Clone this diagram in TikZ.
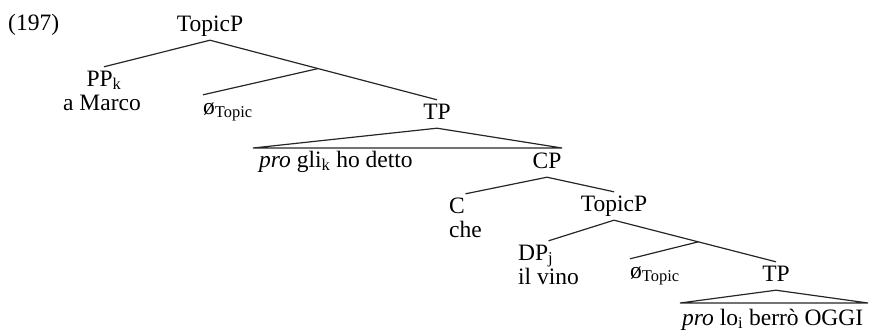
\documentclass[tikz,border=0pt]{standalone}
\usepackage{fontspec}
\setmainfont{Liberation Serif}
\usetikzlibrary{calc}

\begin{document}
\begin{tikzpicture}[x=1pt, y=-1pt,
    lab/.style={font=\fontsize{23.5}{28}\selectfont, inner xsep=0pt, inner ysep=4pt,
                text height=15pt, text depth=5pt, anchor=base},
    word/.style={lab, anchor=base west},
    branch/.style={line width=1.2pt, black!85}
]
    \useasboundingbox (0,0) rectangle (870,333);

    % Example number
    \node[word] (ex) at (8,30) {(197)};

    % Upper TopicP and its daughters
    \node[lab] (top1) at (210,31) {TopicP};
    \node[lab] (pp) at (104,86) {PP\textsubscript{k}};
    \node[lab] (ppw) at (102,110) {a Marco};
    \node[word] (nul1) at (203,114) {ø\textsubscript{Topic}};
    \node[lab] (tp1) at (437,119) {TP};
    \coordinate (bar1) at ($(top1.south)!0.476!(tp1.north)$);

    % Triangle over the first TP
    \coordinate (tri1l) at (253,148);
    \coordinate (tri1r) at (562,148);
    \node[word] (str1) at (259,167) {\textit{pro} gli\textsubscript{k} ho detto};

    % Embedded CP
    \node[lab] (cp) at (547,168) {CP};
    \node[word] (c) at (449,213) {C};
    \node[word] (cw) at (449,237) {che};
    \node[lab] (top2) at (614,211) {TopicP};
    \node[word] (dp) at (518,260) {DP\textsubscript{j}};
    \node[word] (dpw) at (518,284) {il vino};
    \node[word] (nul2) at (630,278) {ø\textsubscript{Topic}};
    \node[lab] (tp2) at (776,281) {TP};
    \coordinate (bar2) at ($(top2.south)!0.52!(tp2.north)$);

    % Triangle over the lower TP
    \coordinate (tri2l) at (680,303);
    \coordinate (tri2r) at (868,303);
    \node[word] (str2) at (682,325) {\textit{pro} lo\textsubscript{i} berrò OGGI};

    % Branches
    \draw[branch] (pp.north) -- (top1.south) -- (tp1.north);
    \draw[branch] (bar1) -- (nul1.north west);
    \draw[branch] (tri1l) -- (tp1.south) -- (tri1r) -- cycle;
    \draw[branch] (c.north -| cw.north) -- (cp.south) -- (top2.north);
    \draw[branch] (dp.north -| dpw.north) -- (top2.south) -- (tp2.north);
    \draw[branch] (bar2) -- (nul2.north west);
    \draw[branch] (tri2l) -- (tp2.south) -- (tri2r) -- cycle;

\end{tikzpicture}
\end{document}
